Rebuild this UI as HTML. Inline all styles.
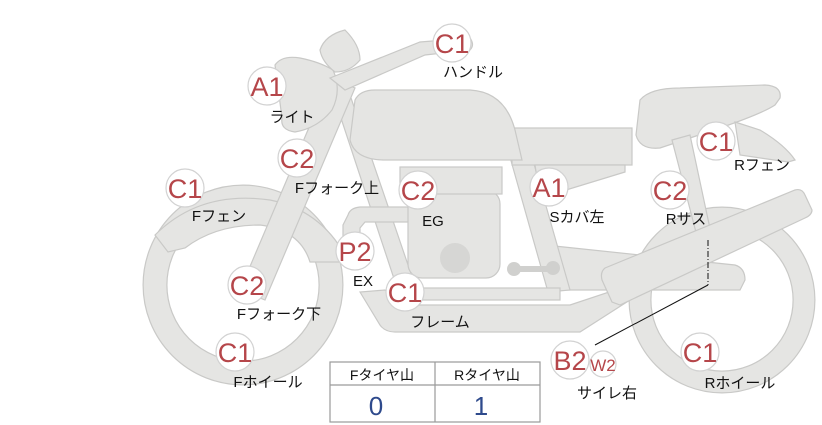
<!DOCTYPE html>
<html><head><meta charset="utf-8"><style>
html,body{margin:0;padding:0;background:#fff;width:822px;height:425px;overflow:hidden}
svg{display:block}
.p{fill:#e5e5e3;stroke:#c9c9c7;stroke-width:1.2}
.b{fill:#fff;stroke:#d2d2d2;stroke-width:1.2}
.bt{font-family:"Liberation Sans","Noto Sans CJK JP",sans-serif;font-size:27px;fill:#b5464a;text-anchor:middle}
.l{font-family:"Liberation Sans","Noto Sans CJK JP",sans-serif;font-size:15px;fill:#111;text-anchor:middle}
</style></head><body>
<svg width="822" height="425" viewBox="0 0 822 425">
<circle cx="243" cy="285" r="88" fill="none" stroke="#c9c9c7" stroke-width="25"/>
<circle cx="243" cy="285" r="88" fill="none" stroke="#e5e5e3" stroke-width="22.6"/>
<circle cx="722" cy="300" r="82" fill="none" stroke="#c9c9c7" stroke-width="23"/>
<circle cx="722" cy="300" r="82" fill="none" stroke="#e5e5e3" stroke-width="20.6"/>
<path class="p" d="M155,235 Q200,190 270,200 Q320,210 345,255 L340,262 L310,262 Q300,230 260,225 Q215,225 185,248 L168,252 Z"/>
<path class="p" d="M545,245 L735,265 Q745,268 745,280 L740,290 L550,290 Z"/>
<path class="p" d="M508,150 L530,150 L570,290 L548,292 Z"/>
<path class="p" d="M360,292 L380,325 Q385,332 395,332 L580,332 L630,300 L615,290 L570,305 L405,305 L385,290 Z"/>
<path class="p" d="M390,288 L560,288 L560,300 L390,300 Z"/>
<path class="p" d="M335,100 L350,95 L420,300 L402,303 Z"/>
<path class="p" d="M348,215 Q350,208 360,207 L412,207 L412,222 L365,222 L360,228 L360,255 L343,258 L343,225 Z"/>
<rect class="p" x="408" y="190" width="92" height="88" rx="14"/>
<circle cx="455" cy="258" r="15" fill="#d6d6d4"/>
<rect class="p" x="400" y="167" width="102" height="27"/>
<rect x="512" y="266" width="42" height="6" fill="#d0d0ce"/>
<circle cx="514" cy="269" r="7" fill="#d0d0ce"/><circle cx="553" cy="268" r="7" fill="#d0d0ce"/>
<path class="p" d="M512,128 L632,128 L632,165 L512,165 Z"/>
<path class="p" d="M535,165 L625,165 L625,172 L540,198 Z"/>
<path class="p" d="M355,100 Q360,90 375,90 L470,90 Q505,92 515,130 L522,160 L385,160 Q355,160 350,140 Z"/>
<path class="p" d="M640,100 Q650,88 680,88 L765,85 Q782,86 780,98 L775,105 Q760,115 705,133 L660,148 Q640,150 636,135 Z"/>
<path class="p" d="M735,122 L760,130 Q785,145 795,160 L788,162 L740,155 Z"/>
<path class="p" d="M672,140 L690,135 L712,238 L698,240 Z"/>
<path class="p" d="M605,268 L795,190 Q802,188 805,195 L812,210 Q812,215 805,218 L620,305 L612,302 L602,280 Q600,272 605,268 Z"/>
<path class="p" d="M330,78 L355,88 L265,300 L240,290 Z"/>
<path class="p" d="M275,65 Q282,55 300,58 Q320,62 333,70 Q342,90 332,110 Q318,128 295,132 Q280,130 282,118 Z"/>
<path class="p" d="M320,50 Q325,35 345,30 Q360,45 360,60 Q350,72 335,72 Q322,62 320,50 Z"/>
<path class="p" d="M330,78 L420,42 L470,38 Q475,45 470,50 L425,55 L345,90 Z"/>
<line x1="708" y1="240" x2="708" y2="285" stroke="#111" stroke-width="1" stroke-dasharray="6,2,1,2"/>
<line x1="708" y1="285" x2="595" y2="345" stroke="#111" stroke-width="1"/>
<g>
<circle class="b" cx="452" cy="43" r="19"/><text class="bt" x="452" y="53">C1</text>
<circle class="b" cx="267" cy="86" r="19"/><text class="bt" x="267" y="96">A1</text>
<circle class="b" cx="297" cy="158" r="19"/><text class="bt" x="297" y="168">C2</text>
<circle class="b" cx="185" cy="188" r="19"/><text class="bt" x="185" y="198">C1</text>
<circle class="b" cx="418" cy="190" r="19"/><text class="bt" x="418" y="200">C2</text>
<circle class="b" cx="549" cy="187" r="19"/><text class="bt" x="549" y="197">A1</text>
<circle class="b" cx="716" cy="141" r="19"/><text class="bt" x="716" y="151">C1</text>
<circle class="b" cx="670" cy="190" r="19"/><text class="bt" x="670" y="200">C2</text>
<circle class="b" cx="355" cy="251" r="19"/><text class="bt" x="355" y="261">P2</text>
<circle class="b" cx="405" cy="292" r="19"/><text class="bt" x="405" y="302">C1</text>
<circle class="b" cx="247" cy="285" r="19"/><text class="bt" x="247" y="295">C2</text>
<circle class="b" cx="235" cy="352" r="19"/><text class="bt" x="235" y="362">C1</text>
<circle class="b" cx="700" cy="352" r="19"/><text class="bt" x="700" y="362">C1</text>
<circle class="b" cx="603" cy="364" r="13"/><text class="bt" x="603" y="371" style="font-size:17px">W2</text>
<circle class="b" cx="570" cy="360" r="19"/><text class="bt" x="570" y="370">B2</text>
</g>
<text class="l" x="473" y="77">ハンドル</text>
<text class="l" x="292" y="122">ライト</text>
<text class="l" x="337" y="193">Fフォーク上</text>
<text class="l" x="219" y="221">Fフェン</text>
<text class="l" x="433" y="226">EG</text>
<text class="l" x="577" y="222">Sカバ左</text>
<text class="l" x="762" y="170">Rフェン</text>
<text class="l" x="686" y="224">Rサス</text>
<text class="l" x="363" y="286">EX</text>
<text class="l" x="440" y="327">フレーム</text>
<text class="l" x="279" y="319">Fフォーク下</text>
<text class="l" x="268" y="387">Fホイール</text>
<text class="l" x="607" y="398">サイレ右</text>
<text class="l" x="740" y="388">Rホイール</text>
<rect x="330" y="362" width="210" height="60" fill="#fff" stroke="#9a9a9a" stroke-width="1.2"/>
<line x1="330" y1="385" x2="540" y2="385" stroke="#9a9a9a" stroke-width="1.2"/>
<line x1="435" y1="362" x2="435" y2="422" stroke="#9a9a9a" stroke-width="1.2"/>
<text class="l" x="382" y="380" style="font-size:14px">Fタイヤ山</text>
<text class="l" x="487" y="380" style="font-size:14px">Rタイヤ山</text>
<text x="376" y="415" style="font-family:'Liberation Sans',sans-serif;font-size:26px;fill:#2e4a8c;text-anchor:middle">0</text>
<text x="481" y="415" style="font-family:'Liberation Sans',sans-serif;font-size:26px;fill:#2e4a8c;text-anchor:middle">1</text>
</svg>
</body></html>
